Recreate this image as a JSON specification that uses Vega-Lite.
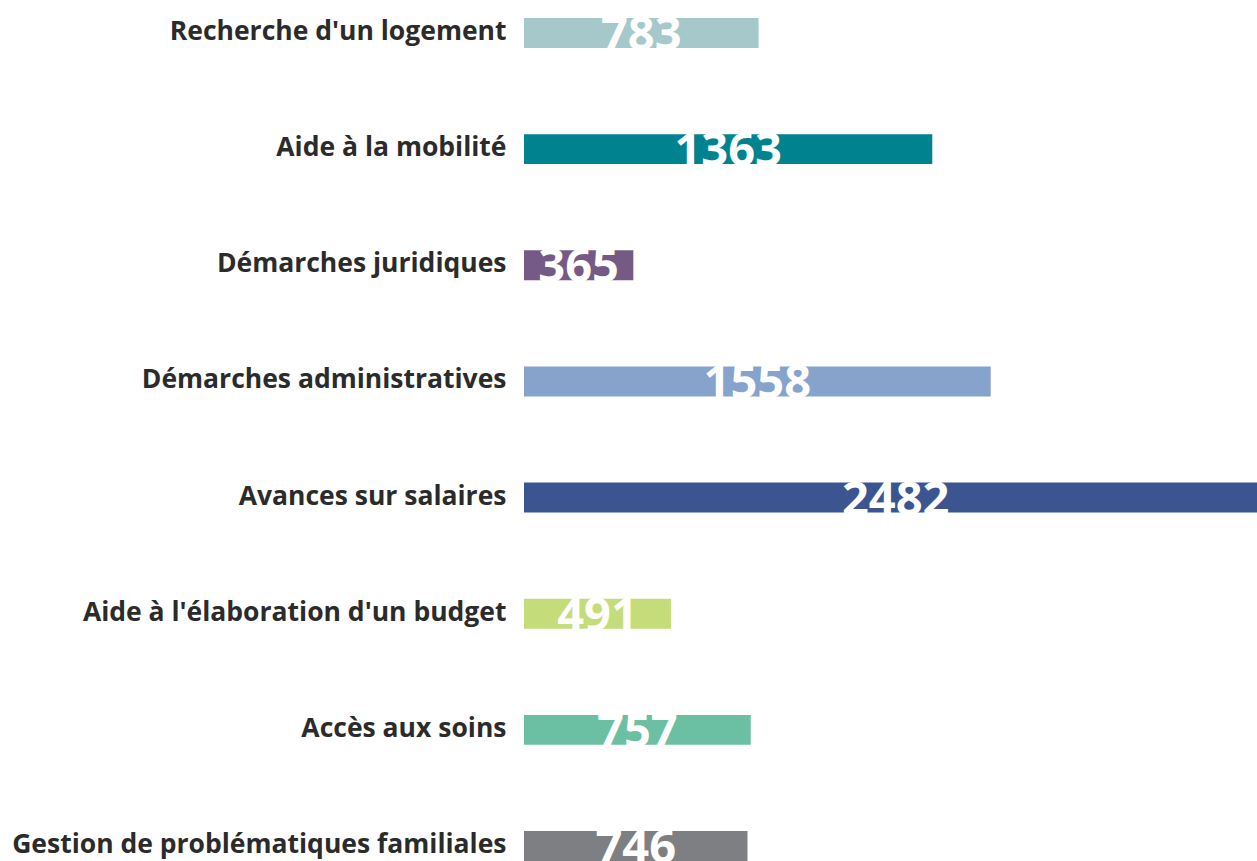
{
  "$schema": "https://vega.github.io/schema/vega-lite/v6.json",
  "autosize": {"type": "none"},
  "padding": {"left": 524, "top": 18, "right": 0, "bottom": 0},
  "width": 733,
  "height": 843,
  "background": "white",
  "config": {"view": {"stroke": null}},
  "data": {
    "values": [
      {"categorie": "Recherche d'un logement", "valeur": 783},
      {"categorie": "Aide à la mobilité", "valeur": 1363},
      {"categorie": "Démarches juridiques", "valeur": 365},
      {"categorie": "Démarches administratives", "valeur": 1558},
      {"categorie": "Avances sur salaires", "valeur": 2482},
      {"categorie": "Aide à l'élaboration d'un budget", "valeur": 491},
      {"categorie": "Accès aux soins", "valeur": 757},
      {"categorie": "Gestion de problématiques familiales", "valeur": 746}
    ]
  },
  "encoding": {
    "y": {
      "field": "categorie",
      "type": "nominal",
      "sort": null,
      "scale": {"paddingInner": 0.742, "paddingOuter": 0},
      "axis": {
        "title": null,
        "domain": false,
        "ticks": false,
        "labelFont": "Open Sans",
        "labelFontWeight": "bold",
        "labelFontSize": 26.5,
        "labelColor": "#2b2b2b",
        "labelPadding": 18,
        "labelLimit": 0,
        "labelOffset": -1
      }
    }
  },
  "layer": [
    {
      "mark": {"type": "bar", "clip": true},
      "encoding": {
        "x": {
          "field": "valeur",
          "type": "quantitative",
          "scale": {"domain": [0, 2447], "nice": false, "zero": true},
          "axis": null
        },
        "color": {
          "field": "categorie",
          "type": "nominal",
          "legend": null,
          "scale": {
            "domain": [
              "Recherche d'un logement",
              "Aide à la mobilité",
              "Démarches juridiques",
              "Démarches administratives",
              "Avances sur salaires",
              "Aide à l'élaboration d'un budget",
              "Accès aux soins",
              "Gestion de problématiques familiales"
            ],
            "range": ["#a5c9ca", "#00838f", "#745a85", "#86a3cd", "#3a5590", "#c5dc7b", "#6bbfa3", "#7e7f83"]
          }
        }
      }
    },
    {
      "mark": {
        "type": "text",
        "font": "Open Sans",
        "fontWeight": "bold",
        "fontSize": 47,
        "color": "white",
        "align": "center",
        "baseline": "alphabetic",
        "dy": 17
      },
      "encoding": {
        "x": {
          "field": "valeur",
          "type": "quantitative",
          "scale": {"domain": [0, 4894], "nice": false, "zero": true},
          "axis": null
        },
        "text": {"field": "valeur", "type": "quantitative"}
      }
    }
  ],
  "resolve": {"scale": {"x": "independent"}}
}
